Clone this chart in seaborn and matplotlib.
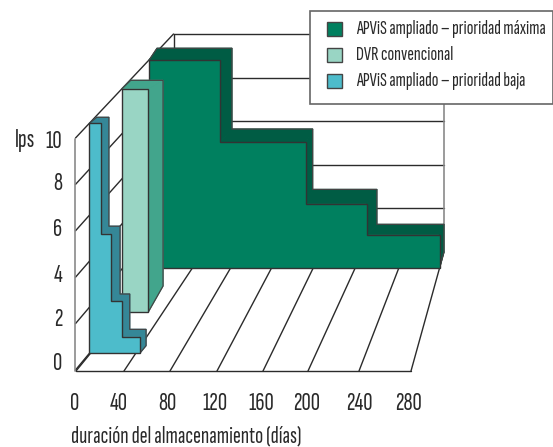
import numpy as np
import pandas as pd
import matplotlib
matplotlib.use("Agg")
import matplotlib.pyplot as plt
from matplotlib.patches import Rectangle
import seaborn as sns

# values
tick_days = [0, 40, 80, 120, 160, 200, 240, 280]
tick_fps = [0, 2, 4, 6, 8, 10]

high_days = [68, 151, 210, 280]
high_fps = [9.4, 5.7, 2.9, 1.5]
dvr_days = [24.5]
dvr_fps = [10.0]
low_days = [10, 18.5, 28.5, 43.5]
low_fps = [10.0, 5.2, 2.26, 0.72]

legend_names = ["APViS ampliado – prioridad máxima", "DVR convencional", "APViS ampliado – prioridad baja"]

# fake 3d layout, in pixels
front_x = [76, 124, 170, 217, 263, 308, 359, 411]
back_x = [173.5, 203, 240, 280, 321, 362.5, 405, 444]
FRONT_Y, BACK_Y = 371, 252
FRONT_UNIT, BACK_UNIT = 23.2, 21.8
tick_label_x = [75, 119, 167, 215, 261, 307, 359, 408.5]
fps_label_y = [364, 319, 275, 229, 184, 141]

sns.set_theme(style="white")
plt.rcParams['font.family'] = ['Sofia Sans Extra Condensed', 'Fira Sans Extra Condensed', 'Liberation Sans', 'DejaVu Sans']

GRID = "#2b2b2b"
WALL = "#8a8a8a"
colors = {"high": ("#00805f", "#005c44"), "dvr": ("#99d5c4", "#42a58c"), "low": ("#4dbccb", "#358797")}


def draw_lines(ax, segments, color, lw):
    rows = []
    for i, seg in enumerate(segments):
        for x, y in seg:
            rows.append({"line": i, "x": x, "y": y})
    df = pd.DataFrame(rows)
    sns.lineplot(data=df, x="x", y="y", units="line", estimator=None, sort=False,
                 color=color, linewidth=lw, ax=ax, legend=False, zorder=1)


def draw_bar(ax, days, fps, x0, y0, sx, sy, depth_x, depth_y, base_dy, cols, z):
    """Stepped bar: front face plus the visible top and side faces."""
    front, side = cols
    edges = [x0 + sx * d for d in days]
    tops = [y0 - sy * f for f in fps]
    lefts = [x0] + edges[:-1]
    kw = dict(edgecolor=side, linewidth=0.8, zorder=z)
    back_xs, back_ys = [lefts[0]], [tops[0]]
    # top of each level and the riser right of it
    for i in range(len(days)):
        ax.fill([lefts[i], edges[i], edges[i] + depth_x[i + 1], lefts[i] + depth_x[i]],
                [tops[i], tops[i], tops[i] - depth_y[i], tops[i] - depth_y[i]],
                facecolor=side, **kw)
        if i + 1 < len(days):
            low = tops[i + 1]
            low_dy = depth_y[i + 1]
        else:
            low = y0
            low_dy = base_dy
        ax.fill([edges[i], edges[i], edges[i] + depth_x[i + 1], edges[i] + depth_x[i + 1]],
                [tops[i], low, low - low_dy, tops[i] - depth_y[i]],
                facecolor=side, **kw)
        back_xs += [lefts[i] + depth_x[i], edges[i] + depth_x[i + 1]]
        back_ys += [tops[i] - depth_y[i], tops[i] - depth_y[i]]
        back_xs.append(edges[i] + depth_x[i + 1])
        back_ys.append(low - low_dy)
    back_xs.append(edges[-1])
    back_ys.append(y0)
    ax.plot(back_xs, back_ys, color="#444444", linewidth=0.9, zorder=z + 0.2)
    # front face
    xs, ys = [x0], [y0]
    for i in range(len(days)):
        xs += [lefts[i], edges[i]]
        ys += [tops[i], tops[i]]
    xs.append(edges[-1])
    ys.append(y0)
    ax.fill(xs, ys, facecolor=front, edgecolor="#333333", linewidth=1.0, joinstyle="miter", zorder=z + 0.5)


fig = plt.figure(figsize=(5.53, 4.47), dpi=100)
ax = fig.add_axes([0, 0, 1, 1])

# walls
back_grid = [[(back_x[0], BACK_Y - BACK_UNIT * v), (back_x[-1], BACK_Y - BACK_UNIT * v)] for v in tick_fps[1:]]
left_grid = [[(back_x[0] - 98, FRONT_Y - 1 - FRONT_UNIT * v), (back_x[0], BACK_Y - BACK_UNIT * v)] for v in tick_fps]
floor = [[(f, FRONT_Y), (b, BACK_Y)] for f, b in zip(front_x, back_x)]
floor.append([(front_x[0], FRONT_Y), (front_x[-1], FRONT_Y)])
draw_lines(ax, back_grid + left_grid + floor, GRID, 1.0)
draw_lines(ax, [[(75.3, FRONT_Y), (75.3, FRONT_Y - FRONT_UNIT * 10)],
                [(back_x[-1], BACK_Y), (back_x[-1], BACK_Y - BACK_UNIT * 10)]], WALL, 1.2)
draw_lines(ax, [[(back_x[0], BACK_Y), (back_x[0], BACK_Y - BACK_UNIT * 10)]], GRID, 1.0)

# bars, back to front
draw_bar(ax, high_days, high_fps, 149, 268, 1.0375, 22.1,
         [8, 12.4, 7, 10, 4.4], [12, 13, 14.5, 10.5], 16, colors["high"], 3)
draw_bar(ax, dvr_days, dvr_fps, 122, 311.7, 1.08, 22.3,
         [8.7, 14.6], [8.4], 25.7, colors["dvr"], 4)
draw_bar(ax, low_days, low_fps, 89.3, 353.3, 1.16, 23.0,
         [7.4, 8, 9.3, 7.4, 6.3], [6, 7.5, 7.3, 7.4], 7.6, colors["low"], 5)

# tick labels
TXT = "#2a2a2a"
for d, x in zip(tick_days, tick_label_x):
    ax.text(x, 404, str(d), ha="center", va="center", fontsize=18.5, color=TXT)
for v, y in zip(tick_fps, fps_label_y):
    ax.text(62.5, y, str(v), ha="right", va="center", fontsize=18.5, color=TXT)
ax.text(15, 141, "lps", ha="left", va="center", fontsize=18.5, color=TXT)
ax.text(71, 436, "duración del almacenamiento (días)", ha="left", va="center", fontsize=17.2, color=TXT)

# legend box
ax.add_patch(Rectangle((310, 11), 242.5, 92.5, facecolor="white", edgecolor="#666666", linewidth=1.2, zorder=8))
for name, key, y in zip(legend_names, ["high", "dvr", "low"], [29, 55, 81]):
    ax.add_patch(Rectangle((327, y - 7.3), 15, 14.6, facecolor=colors[key][0], edgecolor="#444444",
                           linewidth=1.0, zorder=9))
    ax.text(356, y, name, ha="left", va="center", fontsize=14.3, color=TXT, zorder=9)

ax.set_xlim(0, 553)
ax.set_ylim(447, 0)
ax.axis("off")
fig.savefig("out.png", dpi=100)
